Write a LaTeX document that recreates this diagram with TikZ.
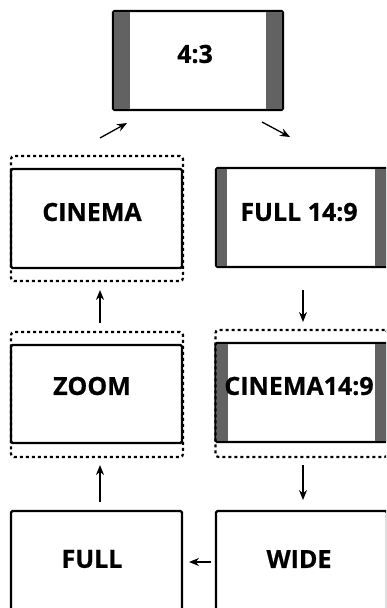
\documentclass[tikz,border=0pt]{standalone}
\usepackage{fontspec}
\setmainfont{Open Sans}[BoldFeatures={FakeBold=0.6}]
\usetikzlibrary{arrows.meta}
\definecolor{bargray}{HTML}{626262}
\tikzset{
  screen/.style={draw=black, line width=2.2pt, rounded corners=1.5pt, minimum width=171pt, minimum height=99pt, inner sep=0pt, outer sep=0pt},
  dotbox/.style={draw=black, line width=2.2pt, dash pattern=on 3pt off 3pt, rounded corners=3pt, minimum width=172pt, minimum height=125pt, inner sep=0pt, outer sep=0pt},
  lbl/.style={font=\bfseries\fontsize{25}{29}\selectfont, inner sep=0pt},
  bar/.style={fill=bargray},
  conn/.style={-{Stealth[length=10pt,width=8pt]}, line width=1.3pt}
}
\begin{document}
\begin{tikzpicture}[x=1pt,y=-1pt]
\useasboundingbox (0,0) rectangle (386,608);
\clip (0,0) rectangle (386,608);
% 4:3
\node[screen, minimum width=170pt] (r43) at (198,60.5) {};
\fill[bar] ([xshift=1pt,yshift=-1pt]r43.north west) rectangle ([xshift=17pt,yshift=1pt]r43.south west);
\fill[bar] ([xshift=-1pt,yshift=-1pt]r43.north east) rectangle ([xshift=-17pt,yshift=1pt]r43.south east);
\node[lbl] (t43) at (195,54) {4:3};
% CINEMA
\node[dotbox] (dcin) at (97,218.5) {};
\node[screen] (cin) at (96.5,218.5) {};
\node[lbl] (tcin) at (92,212) {CINEMA};
% FULL 14:9
\node[screen] (f149) at (301.5,217.5) {};
\fill[bar] ([xshift=1pt,yshift=-1pt]f149.north west) rectangle ([xshift=11pt,yshift=1pt]f149.south west);
\fill[bar] ([xshift=-1pt,yshift=-1pt]f149.north east) rectangle ([xshift=-12pt,yshift=1pt]f149.south east);
\node[lbl] (tf149) at (299,212) {FULL 14:9};
% ZOOM
\node[dotbox] (dzoom) at (97,394.5) {};
\node[screen, minimum height=98pt] (zoom) at (96.5,394) {};
\node[lbl] (tzoom) at (92,386) {ZOOM};
% CINEMA 14:9
\node[dotbox, minimum height=127pt] (dc149) at (301.5,393.5) {};
\node[screen] (c149) at (301,392.5) {};
\fill[bar] ([xshift=1pt,yshift=-1pt]c149.north west) rectangle ([xshift=12pt,yshift=1pt]c149.south west);
\fill[bar] ([xshift=-1pt,yshift=-1pt]c149.north east) rectangle ([xshift=-12pt,yshift=1pt]c149.south east);
\node[lbl] (tc149) at (299,386) {CINEMA14:9};
% FULL
\node[screen] (full) at (96.5,560.5) {};
\node[lbl] (tfull) at (92,559) {FULL};
% WIDE
\node[screen] (wide) at (301.5,560.5) {};
\node[lbl] (twide) at (299,559) {WIDE};
% connectors
\coordinate (a1s) at (100,138); \coordinate (a1e) at (127,123);
\coordinate (a2s) at (262,122); \coordinate (a2e) at (290,137);
\coordinate (a3s) at (100,323); \coordinate (a3e) at (100,290);
\coordinate (a4s) at (303,290); \coordinate (a4e) at (303,322);
\coordinate (a5s) at (100,502); \coordinate (a5e) at (100,465);
\coordinate (a6s) at (303,465); \coordinate (a6e) at (303,500);
\coordinate (a7s) at (211,562); \coordinate (a7e) at (189,562);
\draw[conn] (a1s) -- (a1e);
\draw[conn] (a2s) -- (a2e);
\draw[conn] (a3s) -- (a3e);
\draw[conn] (a4s) -- (a4e);
\draw[conn] (a5s) -- (a5e);
\draw[conn] (a6s) -- (a6e);
\draw[conn] (a7s) -- (a7e);
\end{tikzpicture}
\end{document}
